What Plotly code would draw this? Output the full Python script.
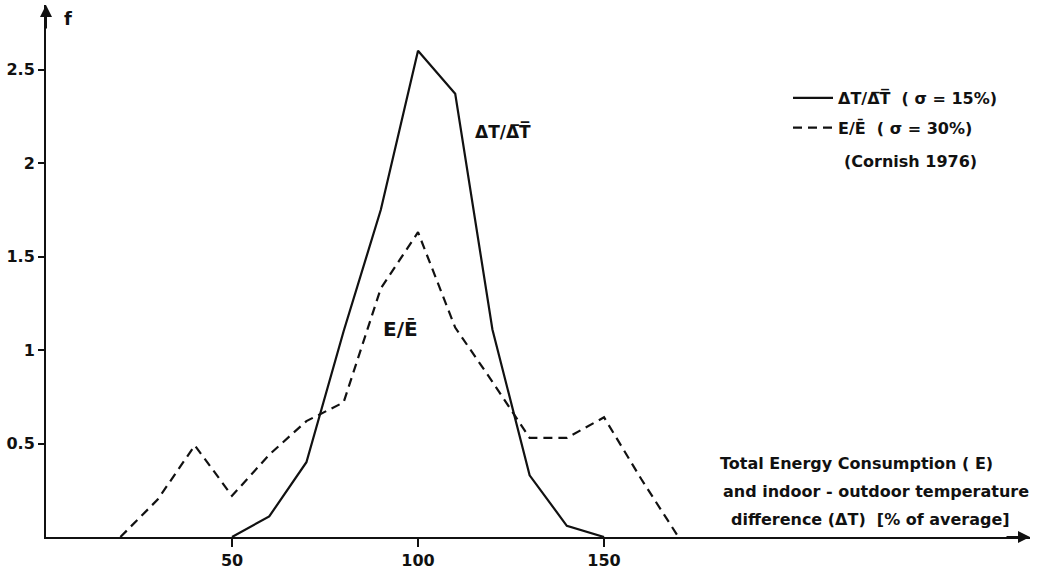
import plotly.graph_objects as go

# Data
x_dt = [50, 60, 70, 80, 90, 100, 110, 120, 130, 140, 150]
f_dt = [0.0, 0.11, 0.40, 1.10, 1.75, 2.60, 2.37, 1.11, 0.33, 0.06, 0.0]

x_e = [20, 30, 40, 50, 60, 70, 80, 90, 100, 110, 120, 130, 140, 150, 160, 170]
f_e = [0.0, 0.20, 0.49, 0.22, 0.44, 0.62, 0.72, 1.33, 1.63, 1.12, 0.83, 0.53, 0.53, 0.64, 0.31, 0.0]

x_ticks = [50, 100, 150]
x_ticklabels = ["50", "100", "150"]
y_ticks = [0.5, 1, 1.5, 2, 2.5]
y_ticklabels = ["0.5", "1", "1.5", "2", "2.5"]

FONT = "DejaVu Sans"
BLACK = "#111111"
L, R, T, B = 46, 8, 5, 39
W, H = 1038, 576
PW, PH = W - L - R, H - T - B


def px(xp):
    return (xp - L) / PW


def py(yp):
    return (H - B - yp) / PH


fig = go.Figure()
fig.add_trace(go.Scatter(
    x=x_dt, y=f_dt, mode="lines",
    name="ΔT/Δ\u0305T\u0305  ( σ = 15%)",
    line=dict(color=BLACK, width=2.2),
    legendgroup="a",
))
fig.add_trace(go.Scatter(
    x=x_e, y=f_e, mode="lines",
    name="E/Ē  ( σ = 30%)",
    line=dict(color=BLACK, width=2.2, dash="9px,6px"),
    legendgroup="b",
))

tickfont = dict(family=FONT, size=16, color=BLACK, weight="bold")
fig.update_layout(
    width=W, height=H,
    margin=dict(l=L, r=R, t=T, b=B),
    paper_bgcolor="white", plot_bgcolor="white",
    font=dict(family=FONT, size=16, color=BLACK, weight="bold"),
    showlegend=True,
    legend=dict(
        x=px(788), y=py(81), xanchor="left", yanchor="top",
        bgcolor="rgba(0,0,0,0)", borderwidth=0,
        font=dict(family=FONT, size=16, color=BLACK, weight="bold"),
        tracegroupgap=6,
        itemwidth=40,
    ),
    xaxis=dict(
        range=[0, 264.5], showgrid=False, zeroline=False, automargin=False,
        showline=True, linecolor=BLACK, linewidth=2,
        ticks="outside", ticklen=8, tickwidth=2, tickcolor=BLACK,
        tickvals=x_ticks, ticktext=x_ticklabels, tickfont=tickfont,
    ),
    yaxis=dict(
        range=[0, 2.845], showgrid=False, zeroline=False, automargin=False,
        showline=True, linecolor=BLACK, linewidth=2,
        ticks="outside", ticklen=6, tickwidth=2, tickcolor=BLACK,
        tickvals=y_ticks, ticktext=y_ticklabels, tickfont=tickfont,
    ),
)

# axis arrows
fig.add_annotation(x=1, y=0, xref="paper", yref="paper", ax=-25, ay=0,
                   text="", showarrow=True, arrowhead=2, arrowsize=1.2,
                   arrowwidth=2, arrowcolor=BLACK)
fig.add_annotation(x=0, y=1, xref="paper", yref="paper", ax=0, ay=25,
                   text="", showarrow=True, arrowhead=2, arrowsize=1.2,
                   arrowwidth=2, arrowcolor=BLACK)

# y-axis label
fig.add_annotation(x=px(62), y=py(18), xref="paper", yref="paper",
                   text="f", showarrow=False, xanchor="left", yanchor="middle",
                   font=dict(family=FONT, size=18, color=BLACK, weight="bold"))

# curve labels
fig.add_annotation(x=122.8, y=2.17, text="ΔT/Δ\u0305T\u0305", showarrow=False,
                   font=dict(family=FONT, size=17, color=BLACK, weight="bold"))
fig.add_annotation(x=95.2, y=1.11, text="E/Ē", showarrow=False,
                   font=dict(family=FONT, size=20, color=BLACK, weight="bold"))

# source note under legend
fig.add_annotation(x=px(842), y=py(161), xref="paper", yref="paper",
                   text="(Cornish 1976)", showarrow=False,
                   xanchor="left", yanchor="middle",
                   font=dict(family=FONT, size=16, color=BLACK, weight="bold"))

# x-axis description
title_lines = ["Total Energy Consumption ( E)",
               "and indoor - outdoor temperature",
               "difference (ΔT)  [% of average]"]
title_pos = [(718, 463), (721, 491), (729, 519)]
for txt, (xp, yp) in zip(title_lines, title_pos):
    fig.add_annotation(x=px(xp), y=py(yp),
                       xref="paper", yref="paper", text=txt,
                       showarrow=False, xanchor="left", yanchor="middle",
                       font=dict(family=FONT, size=16, color=BLACK, weight="bold"))

fig.write_html("out.html",
               config={"displayModeBar": False},
               post_script="document.body.style.margin='0';document.body.style.overflow='hidden';")
